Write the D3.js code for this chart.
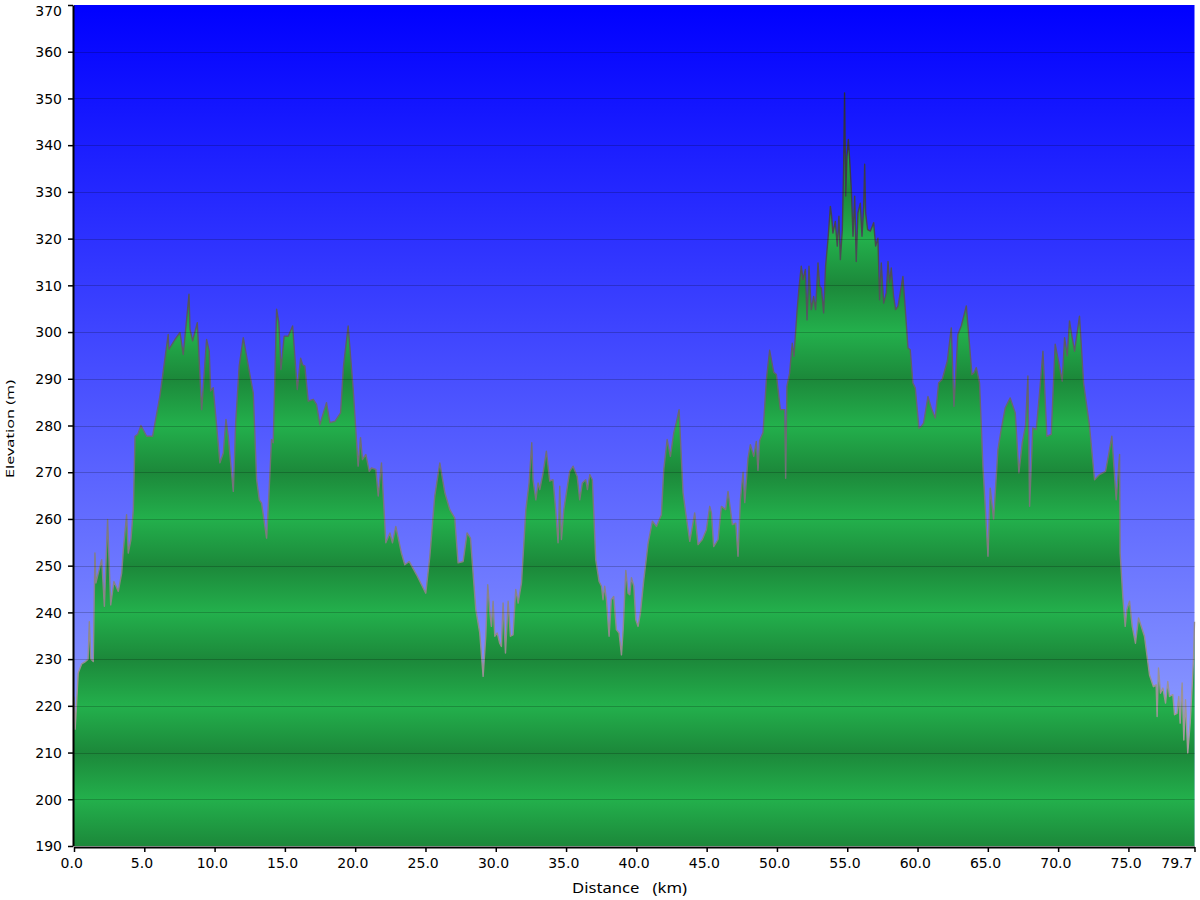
<!DOCTYPE html>
<html>
<head>
<meta charset="utf-8">
<script src="https://cdn.jsdelivr.net/npm/d3@7"></script>
<style>
  html, body { margin: 0; padding: 0; background: #ffffff; }
  svg { display: block; }
</style>
</head>
<body>
<svg id="chart" width="1200" height="900"></svg>
<script>
// ---------------- data ----------------
const distanceKm = [
  0.00,0.08,0.30,0.55,0.78,1.00,1.09,1.20,1.37,1.49,1.56,1.73,1.97,2.16,2.39,2.61,2.84,3.15,3.39,3.51,
  3.74,3.86,4.05,4.22,4.34,4.53,4.76,5.17,5.59,6.11,6.70,6.75,7.18,7.54,7.77,8.01,8.18,8.25,8.44,8.77,
  9.08,9.43,9.62,9.72,9.90,10.38,10.62,10.81,10.97,11.33,11.50,11.75,12.04,12.40,12.75,12.99,13.18,13.34,13.70,13.87,
  14.05,14.17,14.41,14.57,14.72,14.95,15.24,15.55,15.88,16.12,16.26,16.42,16.66,17.02,17.25,17.49,17.96,18.20,18.56,18.96,
  19.17,19.50,19.86,20.21,20.38,20.52,20.76,21.00,21.16,21.47,21.64,21.87,22.18,22.47,22.65,22.89,23.29,23.53,23.84,24.36,
  25.02,25.31,25.66,26.02,26.38,26.73,27.08,27.32,27.68,27.96,28.20,28.58,28.86,29.10,29.29,29.43,29.57,29.69,29.81,29.93,
  30.10,30.28,30.40,30.52,30.69,30.88,31.04,31.23,31.42,31.59,31.83,32.14,32.37,32.56,32.65,32.85,33.01,33.13,33.37,33.60,
  33.84,34.07,34.26,34.43,34.55,34.67,34.84,35.26,35.50,35.79,35.97,36.16,36.40,36.52,36.69,36.87,37.11,37.35,37.52,37.63,
  37.75,37.87,38.06,38.22,38.39,38.58,38.77,38.94,39.06,39.25,39.41,39.53,39.65,39.82,39.96,40.12,40.29,40.53,40.84,41.14,
  41.43,41.78,41.95,42.19,42.42,42.66,42.84,43.04,43.16,43.32,43.51,43.80,44.15,44.39,44.69,44.98,45.22,45.34,45.50,45.81,
  46.05,46.35,46.52,46.83,47.07,47.23,47.40,47.59,47.71,47.94,48.11,48.35,48.53,48.65,48.77,49.01,49.25,49.48,49.77,49.96,
  50.24,50.55,50.62,50.71,50.90,51.09,51.21,51.43,51.57,51.73,51.85,52.02,52.14,52.28,52.44,52.61,52.75,52.92,53.04,53.16,
  53.32,53.46,53.63,53.80,53.89,53.98,54.15,54.29,54.41,54.51,54.65,54.74,54.81,54.89,54.98,55.08,55.17,55.29,55.41,55.53,
  55.64,55.76,55.93,56.05,56.17,56.24,56.31,56.45,56.64,56.88,57.02,57.18,57.30,57.42,57.59,57.78,57.90,58.01,58.13,58.30,
  58.44,58.61,58.77,58.96,59.13,59.32,59.48,59.67,59.84,60.10,60.26,60.43,60.74,60.98,61.26,61.50,61.76,62.12,62.40,62.59,
  62.87,63.11,63.47,63.87,64.02,64.18,64.41,64.65,64.84,65.01,65.17,65.41,65.72,65.95,66.24,66.59,66.95,67.21,67.45,67.68,
  67.85,67.97,68.20,68.44,68.68,68.92,69.20,69.51,69.79,70.05,70.29,70.46,70.65,70.81,70.98,71.17,71.52,71.81,72.23,72.59,
  72.94,73.37,73.61,73.82,74.13,74.37,74.41,74.60,74.77,74.89,75.08,75.27,75.50,75.72,76.14,76.50,76.78,76.97,77.04,77.14,
  77.28,77.45,77.64,77.80,77.92,78.16,78.28,78.45,78.58,78.68,78.82,78.94,79.06,79.22,79.39,79.53,79.63,79.70
];
const elevationM = [
  222,215,227,229,229.4,230,238,230,229.5,252.7,246.3,248.4,251.3,241.3,259.9,241.6,246.6,244.5,248.4,253.4,
  260.9,252.7,255.6,262,277.7,278.1,280,277.7,277.7,286.3,299.5,296.3,298.4,299.9,295.2,302.7,308.1,300.6,298.1,302,
  283.4,298.4,295.9,287.4,288.1,272,274.1,281.3,277.7,265.9,280.6,292.7,298.8,292.7,287,268.4,264.1,263.4,255.9,265.6,
  277,276.3,304.9,302,292,299.1,299.1,301.3,287.7,294.4,293,292.7,285.2,285.6,284.5,280.2,284.9,280.6,280.9,282.7,
  292.7,301.3,287.7,271.3,277.4,272.7,273.8,270.2,270.9,270.6,264.9,272,254.9,257,254.9,258.4,252.7,250.2,250.9,248.1,
  244.1,252,264.9,272,265.6,262,260.2,250.6,250.9,257,255.9,240.6,235.6,226.3,234.9,245.9,240.2,237,242.4,234.9,
  235.6,233.4,232.7,242,231.3,242.4,234.9,235.2,244.9,242,246.3,262,267.7,276.3,268.4,264.1,267.7,266.3,269.9,274.5,
  268.1,268.4,262,254.9,267,255.6,262,270.2,271.3,269.1,264.1,267.7,268.4,266.3,269.5,268.4,251.3,246.6,245.6,242.7,
  245.6,242.7,234.9,242.7,243.4,236.3,235.6,230.9,236.3,249,244.1,243.8,247.4,245.6,238.4,237,239.9,247,254.9,259.5,
  258.4,260.9,270.6,277,273.4,278.4,280.6,283.4,275.6,265.6,261.3,255.2,261.3,254.5,255.6,257.7,262.7,261.3,254.1,255.6,
  262.7,262,265.9,258.8,259.1,252,264.1,270,263.5,273,275.9,273.4,276.6,270.4,276.8,278.5,289.9,296.1,291.4,290.9,
  283.4,283.4,268.7,288.4,291.2,297.6,294.8,304.5,309.5,314.1,311.2,313.4,302.6,314.1,304.8,307.6,304.8,314.8,309.8,309.4,
  304.1,314.1,319.8,326.9,324.8,321.2,323.7,318.4,324.8,315.5,321.9,334.8,351.2,329.1,337.6,341.2,336.9,330.5,320.5,329.1,
  315.1,325.5,327.6,320.5,326.9,335.9,325.5,321.9,321.6,323.4,318.4,320.1,306.9,314.8,306.2,308.4,315.1,310.5,313.7,307.6,
  304.8,305.5,308.4,311.9,304.8,296.6,296.2,289.1,288,279.4,279.8,280.5,286.2,283.7,281.6,289.1,289.9,293.8,300.9,284.1,
  299.5,301.3,305.6,290.9,291.3,292.4,289.1,271.3,261.3,252,266.6,259.9,274.9,279.1,283.8,285.9,282.7,269.9,276.3,279.9,
  290.6,262.7,279.5,279.1,287,295.9,277.7,278.1,297.4,293.4,289.5,298.8,294.9,302.4,299.1,295.9,303.4,289.1,279.9,268.4,
  269.5,270.2,274.1,277.7,264.1,273.8,252.7,243.4,237,240.6,242.4,237,233.4,238.8,234.9,226.6,224.1,224.5,217.7,228.1,
  222.7,223.8,220.6,225.2,222,222.4,218.1,218.4,222,216.3,224.9,212.7,221.3,209.9,216.3,224.1,230,238
];
const yTickValues = [190,200,210,220,230,240,250,260,270,280,290,300,310,320,330,340,350,360,370];
const xTickValues = [0,5,10,15,20,25,30,35,40,45,50,55,60,65,70,75,79.7];
const xTitle = "Distance\u00a0\u00a0\u00a0(km)";
const yTitle = "Elevation (m)";

(function draw() {
  const svg = d3.select("#chart");
  const plotLeft = 74, plotRight = 1194.5, plotTop = 5, plotBottom = 846;
  const x = d3.scaleLinear().domain([0, 79.7]).range([plotLeft, plotRight]);
  const y = d3.scaleLinear().domain([190, 370]).range([plotBottom, plotTop]);
  const n = Math.min(distanceKm.length, elevationM.length);
  const points = d3.range(n).map(i => ({ km: distanceKm[i], ele: elevationM[i] }));

  const defs = svg.append("defs");
  const bg = defs.append("linearGradient").attr("id", "bg")
    .attr("gradientUnits", "userSpaceOnUse")
    .attr("x1", 0).attr("y1", plotTop).attr("x2", 0).attr("y2", plotBottom);
  bg.append("stop").attr("offset", 0).attr("stop-color", "#0000ff");
  bg.append("stop").attr("offset", 1).attr("stop-color", "#a2b2ff");

  const gf = defs.append("linearGradient").attr("id", "greenBands")
    .attr("gradientUnits", "userSpaceOnUse")
    .attr("spreadMethod", "reflect")
    .attr("x1", 0).attr("y1", y(210)).attr("x2", 0).attr("y2", y(200));
  gf.append("stop").attr("offset", 0).attr("stop-color", "#1c883a");
  gf.append("stop").attr("offset", 1).attr("stop-color", "#23b04c");

  const sg = defs.append("linearGradient").attr("id", "strokeGrad")
    .attr("gradientUnits", "userSpaceOnUse")
    .attr("x1", 0).attr("y1", plotTop).attr("x2", 0).attr("y2", plotBottom);
  sg.append("stop").attr("offset", 0).attr("stop-color", "#1c1c2c");
  sg.append("stop").attr("offset", 0.5).attr("stop-color", "#6a6a72");
  sg.append("stop").attr("offset", 1).attr("stop-color", "#b8aaaa");

  svg.append("rect")
    .attr("x", plotLeft).attr("y", plotTop)
    .attr("width", plotRight - plotLeft).attr("height", plotBottom - plotTop)
    .attr("fill", "url(#bg)");

  const area = d3.area().x(d => x(d.km)).y0(y(190)).y1(d => y(d.ele));
  svg.append("path").datum(points).attr("d", area).attr("fill", "url(#greenBands)");

  const line = d3.line().x(d => x(d.km)).y(d => y(d.ele));
  svg.append("path").datum(points).attr("d", line)
    .attr("fill", "none")
    .attr("stroke", "url(#strokeGrad)")
    .attr("stroke-width", 1.4)
    .attr("stroke-linejoin", "round");

  svg.append("g").selectAll("line")
    .data(yTickValues.filter(v => v > 190 && v < 370))
    .join("line")
    .attr("x1", plotLeft).attr("x2", plotRight)
    .attr("y1", d => Math.round(y(d)) + 0.5).attr("y2", d => Math.round(y(d)) + 0.5)
    .attr("stroke", "rgba(0,0,0,0.2)")
    .attr("stroke-width", 1);

  const yAxis = d3.axisLeft(y).tickValues(yTickValues).tickSize(5).tickSizeOuter(0).tickPadding(6)
    .tickFormat(d3.format("d"));
  const gy = svg.append("g").attr("transform", `translate(${plotLeft - 1},0)`).call(yAxis);
  gy.select(".domain").attr("stroke", "#000").attr("stroke-width", 2);
  gy.selectAll(".tick line").attr("stroke", "#000").attr("stroke-width", 1.5);
  gy.selectAll(".tick text")
    .attr("font-family", "'DejaVu Sans', Verdana, sans-serif")
    .attr("font-size", "14px")
    .attr("fill", "#000")
    .attr("dy", d => d === 370 ? "0.78em" : "0.34em");

  const xAxis = d3.axisBottom(x).tickValues(xTickValues).tickSize(5).tickSizeOuter(0).tickPadding(6)
    .tickFormat(d3.format(".1f"));
  const gx = svg.append("g").attr("transform", `translate(0,${plotBottom + 1})`).call(xAxis);
  gx.select(".domain").attr("stroke", "#000").attr("stroke-width", 2);
  gx.selectAll(".tick line").attr("stroke", "#000").attr("stroke-width", 1.5);
  gx.selectAll(".tick text")
    .attr("font-family", "'DejaVu Sans', Verdana, sans-serif")
    .attr("font-size", "14px")
    .attr("fill", "#000")
    .attr("dx", d => d === 79.7 ? "-1.3em" : "-0.2em");

  svg.append("text")
    .attr("x", 629.5).attr("y", 893)
    .attr("text-anchor", "middle")
    .attr("font-family", "'Noto Sans', 'Open Sans', sans-serif")
    .attr("font-size", "15px")
    .attr("textLength", 115)
    .attr("lengthAdjust", "spacingAndGlyphs")
    .attr("fill", "#000")
    .text(xTitle);

  svg.append("text")
    .attr("transform", "translate(14,429) rotate(-90)")
    .attr("text-anchor", "middle")
    .attr("font-family", "'Noto Sans', 'Open Sans', sans-serif")
    .attr("font-size", "11px")
    .attr("textLength", 98)
    .attr("lengthAdjust", "spacingAndGlyphs")
    .attr("fill", "#000")
    .text(yTitle);
})();
</script>
</body>
</html>
